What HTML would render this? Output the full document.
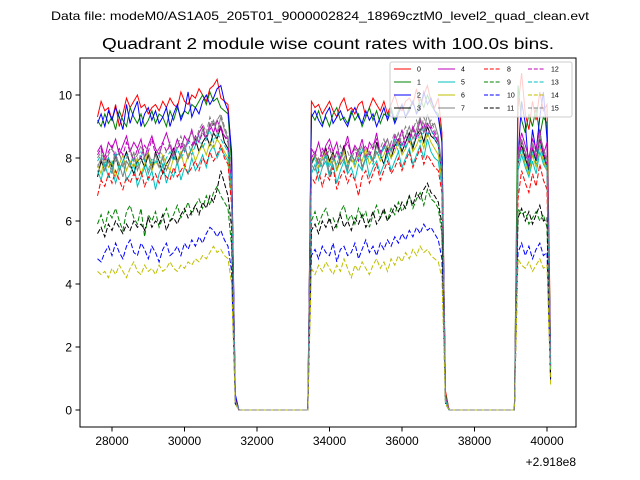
<!DOCTYPE html>
<html><head><meta charset="utf-8"><style>
html,body{margin:0;padding:0;background:#fff;}
svg{display:block;font-family:"Liberation Sans","DejaVu Sans",sans-serif;}
</style></head><body>
<svg id="chart" width="640" height="480" viewBox="0 0 640 480" xmlns="http://www.w3.org/2000/svg">
<rect x="0" y="0" width="640" height="480" fill="#fff"/>
<text x="320" y="20" font-size="12" text-anchor="middle" textLength="538" lengthAdjust="spacingAndGlyphs">Data file: modeM0/AS1A05_205T01_9000002824_18969cztM0_level2_quad_clean.evt</text>
<text x="328" y="49" font-size="15.5" text-anchor="middle" textLength="452" lengthAdjust="spacingAndGlyphs">Quadrant 2 module wise count rates with 100.0s bins.</text>
<g id="plot"></g>
<g id="axes"></g>
<g id="legend"></g>
</svg>
<script>
const seriesNames = ["0","1","2","3","4","5","6","7","8","9","10","11","12","13","14","15"];
const xTicks = [28000,30000,32000,34000,36000,38000,40000];
const yTicks = [0,2,4,6,8,10];
const segAStart = 27600, segBStart = 33500, segCStart = 39200, binSize = 100;
const gap1 = [31500, 33400];
const gap2 = [37300, 39100];

const segA0 = [9.3,9.8,9.5,9.6,9.2,9.7,9.0,9.4,9.9,9.6,9.8,10.0,9.6,9.7,9.4,9.6,9.7,9.5,9.8,9.6,9.9,9.7,9.6,10.1,9.8,9.7,10.0,9.9,10.2,10.0,9.8,10.2,10.3,10.5,9.9,9.8,9.7,8.0,0.4];
const segB0 = [9.8,9.6,9.7,9.4,9.6,9.8,9.5,9.3,9.7,9.9,9.5,9.6,9.4,9.7,9.8,9.3,9.6,9.9,9.7,9.5,9.8,9.4,9.7,10.0,9.6,9.5,9.8,9.9,9.7,10.2,9.6,10.0,10.3,9.8,9.6,9.9,8.8,0.6];
const segC0 = [9.6,10.7,9.4,8.9,9.8,9.2,10.1,9.5,9.7,2.0];
const segA1 = [9.2,9.0,9.4,9.1,9.3,8.9,9.5,9.2,9.0,9.6,9.3,9.1,9.4,9.0,9.2,9.5,9.1,9.4,9.3,9.0,9.5,9.2,9.6,9.3,9.5,9.4,9.7,9.6,9.8,10.0,9.7,10.1,9.8,9.9,9.6,9.5,9.4,7.8,0.3];
const segB1 = [9.4,9.2,9.5,9.1,9.3,9.0,9.4,9.6,9.2,9.3,9.1,9.5,9.2,9.4,9.0,9.3,9.6,9.2,9.5,9.1,9.4,9.3,9.6,9.2,9.5,9.7,9.3,9.6,9.8,9.4,9.9,9.6,10.0,9.7,9.5,9.4,8.6,0.5];
const segC1 = [10.3,9.2,8.8,9.4,9.0,9.6,8.7,9.3,9.1,1.8];
const segA2 = [9.1,9.4,9.0,9.5,9.2,9.6,9.3,8.9,9.7,9.1,9.5,9.8,9.0,9.4,9.6,9.2,9.5,9.1,9.3,9.6,9.0,9.4,9.7,9.2,9.5,10.1,9.3,9.6,9.4,9.8,10.0,9.7,9.9,10.2,10.3,9.8,9.5,8.2,0.5];
const segB2 = [9.3,9.5,9.2,9.0,9.4,9.6,9.1,9.3,9.5,9.2,9.0,9.4,9.6,9.3,9.1,9.5,9.2,9.4,9.0,9.3,9.6,9.2,9.5,9.1,9.4,9.7,9.3,9.5,9.8,9.4,9.6,10.1,9.7,9.9,9.5,9.3,8.5,0.4];
const segC2 = [8.0,9.8,9.1,7.6,8.9,8.2,9.3,10.1,8.6,1.6];
const segA3 = [7.4,7.9,7.6,8.0,7.7,8.1,7.6,7.9,8.2,7.8,7.5,7.9,8.0,7.7,8.1,7.6,8.2,7.9,7.5,7.8,8.0,8.3,7.9,8.1,8.4,8.0,8.3,8.6,8.2,8.5,8.7,8.4,8.8,8.6,9.0,8.5,8.3,7.0,0.3];
const segB3 = [7.8,8.1,7.7,8.0,8.3,7.9,8.2,7.6,8.0,8.4,7.8,8.1,7.9,8.3,7.7,8.0,8.2,7.9,8.5,8.1,7.8,8.3,8.0,8.4,8.6,8.2,8.5,8.8,8.3,8.7,8.9,8.5,9.0,8.7,8.6,8.4,7.4,0.4];
const segC3 = [7.8,8.4,8.0,7.6,8.3,7.9,8.6,8.1,7.7,1.4];
const segA4 = [8.2,8.4,8.0,8.5,8.3,8.6,8.1,8.4,8.7,8.2,8.5,8.3,8.6,8.0,8.4,8.7,8.3,8.1,8.5,8.8,8.4,8.2,8.6,8.3,8.7,8.5,8.9,8.4,8.8,9.0,8.6,9.1,8.8,9.2,8.9,8.7,8.6,7.2,0.3];
const segB4 = [8.3,8.1,8.5,8.0,8.4,8.6,8.2,8.5,7.9,8.3,8.7,8.1,8.4,8.2,8.6,8.0,8.5,8.3,8.8,8.1,8.4,8.6,8.2,8.7,8.5,8.9,8.3,8.6,9.0,8.7,9.2,8.8,9.1,8.9,8.7,8.5,7.6,0.4];
const segC4 = [8.2,8.8,8.4,8.0,8.6,8.3,8.9,8.1,8.5,1.5];
const segA5 = [7.6,7.3,7.8,7.4,7.7,7.2,7.6,7.9,7.3,7.5,7.8,7.1,7.4,7.7,7.3,7.6,7.0,7.5,7.8,7.2,7.6,7.4,7.9,7.3,7.7,7.5,8.0,7.6,7.8,8.1,7.7,8.2,8.4,8.0,8.3,8.1,7.9,6.7,0.3];
const segB5 = [7.5,7.8,7.3,7.7,7.9,7.4,7.8,7.2,7.6,7.9,7.5,7.7,7.3,7.8,7.6,8.0,7.4,7.7,7.9,7.5,7.8,8.1,7.6,7.9,8.2,7.7,8.0,8.3,7.8,8.1,8.4,8.0,8.6,8.2,8.0,7.9,7.1,0.3];
const segC5 = [7.6,8.1,7.7,7.4,7.9,7.5,8.2,7.8,7.6,1.3];
const segA6 = [7.8,7.5,8.0,7.7,7.9,7.4,7.8,8.1,7.6,7.9,7.7,8.0,7.5,7.8,8.2,7.6,7.9,7.7,8.1,7.8,7.6,8.0,7.9,8.2,7.7,8.1,8.3,7.9,8.2,8.4,8.1,8.5,8.3,8.6,8.4,8.2,8.0,6.9,0.3];
const segB6 = [7.9,8.1,7.7,8.0,8.2,7.8,8.1,7.6,7.9,8.2,7.8,8.0,7.7,8.1,7.9,8.3,7.8,8.0,8.2,7.9,8.1,8.4,8.0,8.2,8.5,8.1,8.3,8.6,8.2,8.4,8.7,8.3,8.8,8.5,8.3,8.1,7.3,0.3];
const segC6 = [7.9,8.3,7.8,7.5,8.1,7.7,8.4,7.9,7.6,1.2];
const segA7 = [7.7,8.0,7.6,7.9,7.5,8.1,7.8,7.4,7.9,7.7,8.2,7.6,7.9,8.0,7.5,7.8,8.1,7.7,8.0,7.6,7.9,8.2,7.8,8.1,8.4,8.0,8.3,8.7,8.5,8.9,8.6,9.0,9.2,8.8,9.3,8.9,8.6,7.3,0.3];
const segB7 = [7.8,7.6,8.0,7.7,8.1,7.5,7.9,8.2,7.8,8.0,7.6,8.1,7.9,8.3,7.7,8.0,8.2,7.9,8.4,8.1,8.3,8.6,8.2,8.5,8.8,8.4,8.7,9.0,8.6,8.9,9.3,8.8,9.4,9.0,9.1,8.7,7.7,0.4];
const segC7 = [8.0,8.6,8.2,7.8,8.4,8.0,8.7,8.3,7.9,1.4];
const segA8 = [6.8,7.3,7.1,7.5,7.2,7.6,7.3,7.0,7.4,7.2,7.5,7.3,7.6,7.1,7.4,7.3,7.5,7.2,7.6,7.4,7.3,7.7,7.4,7.6,7.8,7.5,7.7,7.9,7.6,8.0,7.8,8.2,7.9,8.1,8.4,8.0,7.8,6.5,0.3];
const segB8 = [7.4,7.2,7.6,7.1,7.5,7.3,7.7,7.0,7.4,7.6,7.2,7.5,7.3,6.8,7.4,7.6,7.2,7.5,7.8,7.3,7.6,7.9,7.5,7.7,8.0,7.6,7.9,8.2,7.7,8.0,8.3,7.8,8.1,7.9,7.7,7.6,6.9,0.3];
const segC8 = [6.7,7.6,7.2,6.9,7.5,7.1,7.8,7.3,7.0,1.1];
const segA9 = [5.9,6.2,5.8,6.3,6.1,6.4,6.0,5.7,6.3,6.5,6.1,5.9,6.4,5.5,6.2,6.0,6.3,5.8,6.1,6.4,6.0,6.2,6.5,6.1,6.3,6.6,6.2,6.5,6.7,6.4,6.8,6.5,6.9,7.1,6.8,6.6,6.4,5.2,0.2];
const segB9 = [6.0,6.3,5.9,6.2,6.4,6.0,6.1,5.8,6.3,6.5,6.0,6.2,5.9,6.4,6.1,6.3,5.8,6.2,6.5,6.1,6.3,6.0,6.4,6.2,6.6,6.3,6.5,6.8,6.4,6.7,6.9,6.5,7.0,6.7,6.6,6.4,5.6,0.2];
const segC9 = [6.4,6.2,6.3,5.9,6.1,6.3,6.0,6.2,5.8,1.0];
const segA10 = [4.8,4.7,5.0,5.2,4.9,5.3,5.0,4.8,5.2,5.4,5.0,4.9,5.3,5.1,4.8,5.2,5.0,4.7,5.1,5.3,4.9,5.0,5.2,4.9,5.3,5.1,5.4,5.2,5.5,5.3,5.6,5.8,5.7,5.5,5.7,5.4,5.2,4.4,0.2];
const segB10 = [4.9,5.1,4.8,5.2,5.0,4.9,5.3,4.7,5.1,5.2,4.9,5.0,5.3,4.8,5.1,5.4,5.0,5.2,4.9,5.3,5.1,5.4,5.2,5.5,5.3,5.6,5.4,5.7,5.5,5.8,5.6,5.9,5.7,5.8,5.6,5.4,4.8,0.2];
const segC10 = [5.0,5.3,4.9,5.2,4.8,5.1,5.3,4.9,5.0,0.9];
const segA11 = [5.6,5.8,5.5,5.9,5.7,6.0,5.8,5.6,5.9,5.7,6.0,5.8,5.9,5.7,6.1,5.8,6.0,5.9,6.2,5.7,6.0,6.1,5.9,6.2,6.4,6.1,6.3,6.5,6.2,6.6,6.4,6.8,6.6,7.0,7.6,7.2,6.8,5.8,0.3];
const segB11 = [5.7,5.9,5.6,6.0,5.8,6.1,5.7,5.9,6.2,5.8,6.0,5.7,6.1,5.9,6.2,5.8,6.0,6.3,5.9,6.1,6.4,6.0,6.2,6.5,6.3,6.6,6.4,6.8,6.5,6.9,6.7,7.0,7.2,6.9,6.8,6.6,5.9,0.3];
const segC11 = [6.1,6.4,6.0,6.3,5.9,6.2,6.5,6.0,6.1,1.0];
const segA12 = [8.1,8.3,7.9,8.2,8.4,8.0,8.3,8.1,8.5,8.2,7.9,8.3,8.0,8.4,8.2,8.6,8.1,8.3,8.5,8.2,8.4,8.0,8.3,8.5,8.2,8.6,8.4,8.7,8.5,8.8,8.6,8.9,9.1,8.8,9.0,8.7,8.5,7.2,0.3];
const segB12 = [8.0,8.2,7.8,8.3,8.1,8.4,7.9,8.2,8.0,8.3,8.5,8.1,8.3,7.9,8.2,8.4,8.1,8.3,8.6,8.2,8.4,8.1,8.5,8.3,8.6,8.4,8.7,8.5,8.9,8.6,8.8,9.1,8.7,9.0,8.8,8.5,7.6,0.4];
const segC12 = [7.9,8.5,8.1,7.7,8.3,8.0,8.6,8.2,7.8,1.4];
const segA13 = [7.9,8.1,7.7,8.0,7.8,8.2,7.6,7.9,8.1,7.8,8.0,7.7,8.2,7.9,7.6,8.0,7.8,8.1,7.7,8.0,8.2,7.9,8.3,8.0,8.2,8.5,8.1,8.4,8.7,8.3,8.6,8.9,8.5,8.8,8.6,8.4,8.2,7.0,0.3];
const segB13 = [7.8,8.0,7.6,7.9,8.1,7.7,8.0,7.8,8.2,7.9,7.7,8.1,7.8,8.0,8.3,7.9,8.1,7.8,8.2,8.0,8.4,8.1,8.3,8.6,8.2,8.5,8.3,8.7,8.4,8.8,8.5,9.0,8.7,8.9,8.6,8.4,7.5,0.3];
const segC13 = [7.8,8.3,7.9,7.6,8.2,7.8,8.4,8.0,7.7,1.3];
const segA14 = [4.4,4.3,4.4,4.2,4.5,4.3,4.6,4.4,4.2,4.5,4.7,4.4,4.3,4.6,4.4,4.5,4.3,4.6,4.4,4.5,4.7,4.5,4.4,4.6,4.5,4.7,4.6,4.8,4.7,4.9,4.8,5.0,5.2,5.0,5.1,4.9,4.8,4.0,0.2];
const segB14 = [4.5,4.3,4.6,4.4,4.7,4.5,4.3,4.6,4.4,4.8,4.5,4.2,4.6,4.4,4.7,4.5,4.3,4.6,4.8,4.5,4.7,4.4,4.8,4.6,4.9,4.7,5.0,4.8,5.1,4.9,5.2,5.0,5.1,4.9,4.8,4.7,4.2,0.2];
const segC14 = [4.8,4.6,4.5,4.7,4.4,4.6,4.8,4.5,4.6,0.8];
const segA15 = [8.0,8.2,7.8,8.1,8.3,7.9,8.2,7.7,8.0,8.3,7.9,8.1,8.4,8.0,8.2,7.8,8.1,8.3,8.0,8.2,8.5,8.1,8.4,8.7,8.3,8.6,8.8,8.5,8.9,9.1,8.8,9.3,9.0,9.2,9.4,9.0,8.7,7.4,0.3];
const segB15 = [7.9,8.1,7.8,8.2,8.0,8.3,7.9,8.1,8.4,8.0,8.2,7.9,8.3,8.1,8.4,8.0,8.2,8.5,8.1,8.3,8.6,8.2,8.5,8.8,8.4,8.7,9.0,8.6,8.9,9.2,8.8,9.3,9.0,9.2,8.9,8.6,7.7,0.4];
const segC15 = [8.1,8.6,8.2,7.9,8.5,8.1,8.8,8.3,8.0,1.4];

const segsA = [segA0,segA1,segA2,segA3,segA4,segA5,segA6,segA7,segA8,segA9,segA10,segA11,segA12,segA13,segA14,segA15];
const segsB = [segB0,segB1,segB2,segB3,segB4,segB5,segB6,segB7,segB8,segB9,segB10,segB11,segB12,segB13,segB14,segB15];
const segsC = [segC0,segC1,segC2,segC3,segC4,segC5,segC6,segC7,segC8,segC9,segC10,segC11,segC12,segC13,segC14,segC15];

const colors = ["#ff0000","#008000","#0000ff","#000000","#bf00bf","#00bfbf","#bfbf00","#808080"];
const L=80,R=576,T=58,B=427;
function xs(t){return 112 + (t-28000)*0.03625;}
function ys(v){return 410 - v*31.5;}
const NS="http://www.w3.org/2000/svg";
function mk(tag,attrs,parent){const e=document.createElementNS(NS,tag);for(const k in attrs)e.setAttribute(k,attrs[k]);parent.appendChild(e);return e;}

const plot=document.getElementById('plot');
const cp=mk('clipPath',{id:'clip'},plot);
mk('rect',{x:L,y:T,width:R-L,height:B-T},cp);

for(let s=0;s<16;s++){
  const pts=[];
  segsA[s].forEach((v,i)=>pts.push([segAStart+i*binSize,v]));
  for(let t=gap1[0];t<=gap1[1];t+=binSize)pts.push([t,0]);
  segsB[s].forEach((v,i)=>pts.push([segBStart+i*binSize,v]));
  for(let t=gap2[0];t<=gap2[1];t+=binSize)pts.push([t,0]);
  segsC[s].forEach((v,i)=>pts.push([segCStart+i*binSize,v]));
  const d=pts.map((p,i)=>(i?'L':'M')+xs(p[0]).toFixed(1)+' '+ys(p[1]).toFixed(1)).join(' ');
  const path=mk('path',{d:d,fill:'none',stroke:colors[s%8],'stroke-width':1,'clip-path':'url(#clip)'},plot);
  if(s>=8)path.setAttribute('stroke-dasharray','5 2.2');
  
  
}

const axes=document.getElementById('axes');
const frame=mk('rect',{x:L,y:T,width:R-L,height:B-T,fill:'none',stroke:'#000','stroke-width':1},axes);


xTicks.forEach(t=>{
  const x=xs(t);
  mk('line',{x1:x,x2:x,y1:B,y2:B+4.5,stroke:'#000','stroke-width':1},axes);
  const tx=mk('text',{x:x,y:B+18,'font-size':12,'text-anchor':'middle'},axes);
  tx.textContent=String(t);
  
  
});
yTicks.forEach(v=>{
  const y=ys(v);
  mk('line',{x1:L-4.5,x2:L,y1:y,y2:y,stroke:'#000','stroke-width':1},axes);
  const tx=mk('text',{x:L-8,y:y+4.5,'font-size':12,'text-anchor':'end'},axes);
  tx.textContent=String(v);
  
  
});
const off=mk('text',{x:R,y:466,'font-size':12,'text-anchor':'end'},axes);
off.textContent='+2.918e8';



const lg=document.getElementById('legend');
mk('rect',{x:390,y:62,width:182,height:55,rx:2,fill:'#fff','fill-opacity':0.8,stroke:'#ccc','stroke-width':1},lg);
const colX=[394,438,484,528];
const rowY=[69,82,95,108];
for(let s=0;s<16;s++){
  const c=Math.floor(s/4), r=s%4;
  const g=mk('g',{},lg);
  
  
  const ln=mk('line',{x1:colX[c],x2:colX[c]+17,y1:rowY[r],y2:rowY[r],stroke:colors[s%8],'stroke-width':1},g);
  if(s>=8)ln.setAttribute('stroke-dasharray','4 1.8');
  const tx=mk('text',{x:colX[c]+23,y:rowY[r]+2.5,'font-size':7},g);
  tx.textContent=seriesNames[s];
}
</script>
</body></html>
